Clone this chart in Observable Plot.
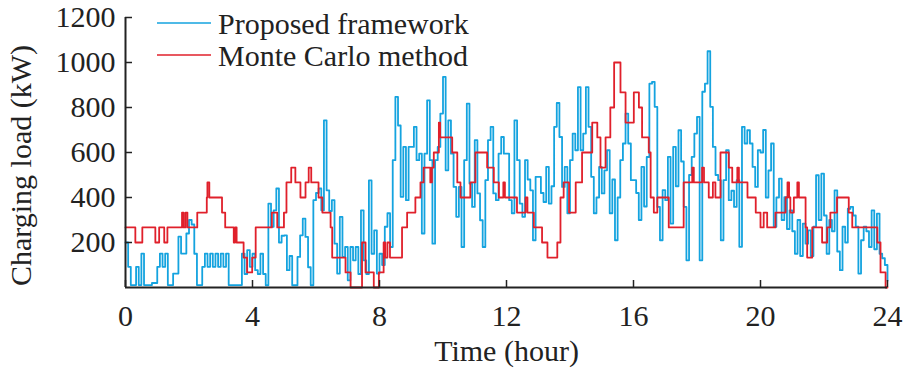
<!DOCTYPE html>
<html>
<head>
<meta charset="utf-8">
<script src="https://cdn.jsdelivr.net/npm/d3@7"></script>
<script src="https://cdn.jsdelivr.net/npm/@observablehq/plot@0.6"></script>
<style>
  html, body { margin: 0; padding: 0; background: #fff; }
  #chart { width: 905px; height: 374px; }
</style>
</head>
<body>
<div id="chart"></div>
<script>
// ---------- data ----------
const seriesNames = ["Proposed framework", "Monte Carlo method"];
const seriesColors = ["#14a3df", "#e0202b"];
const xTicks = [0, 4, 8, 12, 16, 20, 24];
const yTicks = [200, 400, 600, 800, 1000, 1200];

// Proposed framework: 5-minute samples (12 per hour), kW
const blueHour00 = [200, 92, 11, 11, 92, 11, 151, 11, 11, 11, 20, 20];
const blueHour01 = [92, 151, 92, 151, 11, 11, 62, 62, 226, 151, 151, 240];
const blueHour02 = [300, 280, 150, 11, 11, 92, 151, 92, 151, 92, 151, 92];
const blueHour03 = [151, 92, 151, 11, 11, 11, 11, 11, 151, 60, 166, 92];
const blueHour04 = [150, 77, 60, 150, 60, 10, 373, 270, 343, 440, 200, 230];
const blueHour05 = [232, 77, 140, 10, 10, 136, 232, 306, 225, 90, 10, 388];
const blueHour06 = [420, 440, 343, 743, 432, 340, 388, 195, 62, 314, 136, 180];
const blueHour07 = [32, 180, 121, 180, 60, 343, 121, 60, 476, 150, 254, 62];
const blueHour08 = [150, 100, 270, 330, 180, 566, 847, 720, 403, 625, 388, 625];
const blueHour09 = [625, 714, 566, 595, 240, 595, 832, 566, 195, 566, 625, 773];
const blueHour10 = [936, 521, 743, 595, 447, 314, 447, 180, 566, 817, 462, 358];
const blueHour11 = [655, 418, 299, 180, 477, 655, 714, 418, 388, 595, 669, 595];
const blueHour12 = [595, 388, 330, 743, 566, 373, 314, 566, 480, 432, 210, 492];
const blueHour13 = [492, 420, 380, 536, 373, 450, 714, 820, 669, 447, 536, 330];
const blueHour14 = [566, 684, 610, 891, 610, 684, 891, 714, 492, 330, 400, 536];
const blueHour15 = [418, 521, 610, 330, 480, 210, 400, 566, 640, 773, 640, 477];
const blueHour16 = [477, 420, 300, 536, 360, 580, 906, 914, 803, 358, 210, 433];
const blueHour17 = [388, 581, 284, 625, 450, 699, 560, 358, 121, 500, 581, 684];
const blueHour18 = [758, 121, 870, 906, 1050, 803, 625, 500, 477, 210, 477, 610];
const blueHour19 = [388, 430, 358, 477, 181, 714, 640, 699, 640, 536, 447, 610];
const blueHour20 = [600, 700, 400, 520, 640, 270, 400, 484, 300, 402, 260, 343];
const blueHour21 = [250, 150, 300, 140, 284, 195, 254, 140, 270, 499, 300, 506];
const blueHour22 = [320, 150, 300, 250, 432, 160, 77, 270, 200, 350, 358, 320];
const blueHour23 = [270, 62, 210, 270, 250, 180, 343, 170, 328, 150, 130, 100];
const blueEnd = [30];

// Monte Carlo method: step change times (hour) and levels (kW)
const redTimes = [
  0, 0.31, 0.53, 0.94, 1.06, 1.22, 1.32, 1.78, 1.83, 1.89, 1.95, 2.26, 2.56, 2.58, 2.64,
  3.04, 3.14, 3.41, 3.45, 3.5, 3.72, 3.83, 3.99, 4.1, 4.61, 4.78, 4.99, 5.07, 5.22, 5.35,
  5.51, 5.67, 5.77, 5.85, 6.08, 6.2, 6.46, 6.51, 6.93, 7.09, 7.45, 7.56, 7.82, 7.98, 8.13,
  8.18, 8.25, 8.33, 8.71, 8.87, 9.13, 9.29, 9.39, 9.6, 9.65, 9.71, 9.87, 9.91, 10.29, 10.45,
  10.55, 10.86, 11.02, 11.39, 11.6, 11.76, 11.9, 11.95, 12.33, 12.6, 12.66, 12.86, 13.12, 13.29, 13.6,
  13.7, 13.8, 13.97, 14.18, 14.38, 14.7, 14.86, 14.96, 15.12, 15.27, 15.39, 15.59, 15.75, 16.01, 16.17,
  16.27, 16.48, 16.54, 16.64, 16.75, 17.11, 17.58, 17.85, 17.9, 18.16, 18.22, 18.37, 18.5, 18.58, 18.74,
  19.0, 19.11, 19.27, 19.32, 19.59, 19.85, 20.0, 20.1, 20.21, 20.47, 20.79, 20.85, 20.9, 20.94, 21.05,
  21.16, 21.21, 21.42, 21.47, 21.63, 21.94, 22.1, 22.2, 22.41, 22.78, 22.89, 23.68, 23.78, 23.94, 24
];
const redValues = [
  267, 200, 267, 200, 267, 200, 267, 333, 267, 333, 267, 333, 400, 467, 400,
  333, 267, 200, 267, 200, 133, 67, 133, 267, 333, 267, 333, 467, 533, 467,
  400, 467, 533, 467, 400, 333, 267, 133, 67, 0, 200, 67, 0, 67, 200,
  133, 200, 133, 267, 333, 400, 467, 533, 467, 533, 600, 733, 667, 600, 467,
  400, 467, 600, 533, 467, 400, 467, 400, 333, 400, 333, 267, 200, 133, 200,
  400, 467, 333, 467, 600, 733, 667, 533, 667, 800, 1000, 867, 733, 867, 800,
  667, 600, 400, 333, 400, 267, 467, 533, 467, 533, 467, 400, 467, 400, 600,
  533, 467, 533, 467, 400, 333, 267, 333, 267, 333, 400, 467, 400, 333, 400,
  467, 400, 267, 133, 267, 200, 267, 333, 400, 333, 267, 200, 67, 0, 0
];

// ---------- tables built from the arrays ----------
const blueValues = [].concat(
  blueHour00, blueHour01, blueHour02, blueHour03, blueHour04, blueHour05,
  blueHour06, blueHour07, blueHour08, blueHour09, blueHour10, blueHour11,
  blueHour12, blueHour13, blueHour14, blueHour15, blueHour16, blueHour17,
  blueHour18, blueHour19, blueHour20, blueHour21, blueHour22, blueHour23, blueEnd
);
const blueData = blueValues.map((v, i) => ({t: i / 12, v}));
const redData = redTimes.map((t, i) => ({t, v: redValues[i]}));

// ---------- layout ----------
const W = 905, H = 374;
const mL = 125, mR = 18, mT = 17, mB = 87;
const innerW = W - mL - mR, innerH = H - mT - mB;
const FONT = "'Liberation Serif', 'Times New Roman', serif";
const AX = "#222";

function legendMark() {
  const g = d3.create("svg:g")
    .attr("font-family", FONT)
    .attr("font-size", 30)
    .attr("text-anchor", "start")
    .attr("fill", "#222");
  seriesNames.forEach((name, i) => {
    const y = mT + 6 + i * 32;
    g.append("line")
      .attr("x1", mL + 32).attr("x2", mL + 86)
      .attr("y1", y).attr("y2", y)
      .attr("stroke", seriesColors[i]).attr("stroke-width", 1.6);
    g.append("text")
      .attr("x", mL + 93).attr("y", y + 10.5)
      .attr("text-anchor", "start")
      .text(name);
  });
  return g.node();
}

const chart = Plot.plot({
  width: W, height: H,
  marginLeft: mL, marginRight: mR, marginTop: mT, marginBottom: mB,
  style: {fontFamily: FONT, fontSize: "30px", color: AX, background: "#fff", overflow: "visible"},
  x: {domain: [0, 24]},
  y: {domain: [0, 1200]},
  marks: [
    Plot.line(blueData, {x: "t", y: "v", curve: "step-after", stroke: seriesColors[0], strokeWidth: 1.8}),
    Plot.line(redData, {x: "t", y: "v", curve: "step-after", stroke: seriesColors[1], strokeWidth: 1.8}),
    Plot.ruleY([0], {stroke: AX, strokeWidth: 2}),
    Plot.ruleX([0], {stroke: AX, strokeWidth: 2}),
    Plot.tickX(xTicks, {x: d => d, stroke: AX, strokeWidth: 1.5, insetTop: innerH - 7}),
    Plot.tickY(yTicks, {y: d => d, stroke: AX, strokeWidth: 1.5, insetRight: innerW - 7}),
    Plot.axisX(xTicks, {tickSize: 0, tickPadding: 17, fontSize: 30, label: null, tickFormat: d => String(d)}),
    Plot.axisY(yTicks, {tickSize: 0, tickPadding: 10, fontSize: 30, label: null, tickFormat: d => String(d)}),
    Plot.text(["Time (hour)"], {text: d => d, frameAnchor: "bottom", lineAnchor: "middle", dy: 64, fontSize: 30, fill: AX}),
    Plot.text(["Charging load (kW)"], {text: d => d, frameAnchor: "left", textAnchor: "middle", lineAnchor: "middle", dx: -104, dy: 13, rotate: -90, fontSize: 30, fill: AX}),
    legendMark
  ]
});
document.getElementById("chart").appendChild(chart);
</script>
</body>
</html>
